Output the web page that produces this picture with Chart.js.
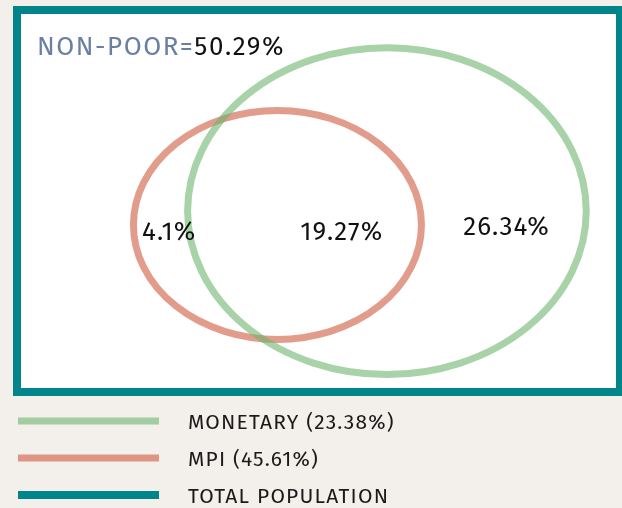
<!DOCTYPE html>
<html>
<head>
<meta charset="utf-8">
<script src="https://cdn.jsdelivr.net/npm/chart.js@4.4.1/dist/chart.umd.min.js"></script>
<style>
  html, body { margin: 0; padding: 0; background: #f3f0ec; }
</style>
</head>
<body>
<canvas id="chart" width="622" height="508"></canvas>
<script>
// legend / set names
const setNames = ['MONETARY (23.38%)', 'MPI (45.61%)', 'TOTAL POPULATION'];
const setColors = ['rgba(110,180,110,0.6)', 'rgba(207,90,63,0.6)', '#00868a'];
// values shown in the regions: MPI only, both, monetary only
const regionLabels = ['4.1%', '19.27%', '26.34%'];
const nonPoorLabel = 'NON-POOR=';
const nonPoorValue = '50.29%';

// shape geometry, in axis units (0-100 across the population box)
const ellipses = [
  { set: 1, x: 43.1, y: 43.6, rx: 24.2, ry: 30.6 },
  { set: 0, x: 61.5, y: 47.3, rx: 33.5, ry: 43.7 }
];
const regionPos = [
  { x: 24.9, y: 41.5 },
  { x: 53.9, y: 41.5 },
  { x: 81.6, y: 42.8 }
];
const nonPoorPos = { x: 2.7, y: 89 };

const FONT = '"Fira Sans", "Open Sans", "Noto Sans", sans-serif';

const venn = {
  id: 'venn',
  beforeDraw(chart) {
    const { ctx, chartArea: a } = chart;
    ctx.save();
    ctx.fillStyle = '#f3f0ec';
    ctx.fillRect(0, 0, chart.width, chart.height);
    ctx.fillStyle = '#ffffff';
    ctx.fillRect(a.left, a.top, a.right - a.left, a.bottom - a.top);
    ctx.strokeStyle = setColors[2];
    ctx.lineWidth = 8;
    ctx.strokeRect(a.left - 4, a.top - 4, a.right - a.left + 8, a.bottom - a.top + 8);
    ctx.restore();
  },
  afterDatasetsDraw(chart) {
    const { ctx } = chart;
    const xs = chart.scales.x, ys = chart.scales.y;

    ctx.save();
    ctx.lineWidth = 7;
    ellipses.forEach(e => {
      const cx = xs.getPixelForValue(e.x), cy = ys.getPixelForValue(e.y);
      const rx = Math.abs(xs.getPixelForValue(e.x + e.rx) - cx);
      const ry = Math.abs(ys.getPixelForValue(e.y + e.ry) - cy);
      ctx.strokeStyle = setColors[e.set];
      ctx.beginPath();
      ctx.ellipse(cx, cy, rx, ry, 0, 0, Math.PI * 2);
      ctx.stroke();
    });

    // region values
    ctx.fillStyle = '#111';
    ctx.font = '26px ' + FONT;
    ctx.letterSpacing = '1px';
    ctx.textAlign = 'center';
    ctx.textBaseline = 'middle';
    regionLabels.forEach((t, i) => {
      ctx.fillText(t, xs.getPixelForValue(regionPos[i].x), ys.getPixelForValue(regionPos[i].y));
    });

    // non-poor
    ctx.textAlign = 'left';
    ctx.textBaseline = 'alphabetic';
    ctx.font = '26px ' + FONT;
    let nx = xs.getPixelForValue(nonPoorPos.x);
    const ny = ys.getPixelForValue(nonPoorPos.y);
    ctx.letterSpacing = '1.5px';
    ctx.fillStyle = '#6a80a2';
    ctx.fillText(nonPoorLabel, nx, ny);
    nx += ctx.measureText(nonPoorLabel).width;
    ctx.fillStyle = '#111';
    ctx.fillText(nonPoorValue, nx, ny);

    // legend
    ctx.font = '21px ' + FONT;
    ctx.letterSpacing = '1.2px';
    ctx.textBaseline = 'middle';
    const legY = [421, 458, 495];
    setNames.forEach((name, i) => {
      ctx.strokeStyle = setColors[i];
      ctx.lineWidth = i === 2 ? 8 : 7;
      ctx.beginPath();
      ctx.moveTo(18, legY[i]);
      ctx.lineTo(159, legY[i]);
      ctx.stroke();
      ctx.fillStyle = '#1a1a1a';
      ctx.fillText(name, 188, legY[i] + 2);
    });
    ctx.restore();
  }
};

new Chart(document.getElementById('chart'), {
  type: 'scatter',
  data: {
    datasets: [
      { label: setNames[0], data: [{ x: ellipses[1].x, y: ellipses[1].y }], pointRadius: 0 },
      { label: setNames[1], data: [{ x: ellipses[0].x, y: ellipses[0].y }], pointRadius: 0 }
    ]
  },
  options: {
    responsive: false,
    animation: false,
    layout: { padding: { left: 21, top: 14, right: 6, bottom: 120 } },
    scales: {
      x: { type: 'linear', min: 0, max: 100, display: false },
      y: { type: 'linear', min: 0, max: 100, display: false }
    },
    plugins: {
      legend: { display: false },
      tooltip: { enabled: false }
    }
  },
  plugins: [venn]
});
</script>
</body>
</html>
